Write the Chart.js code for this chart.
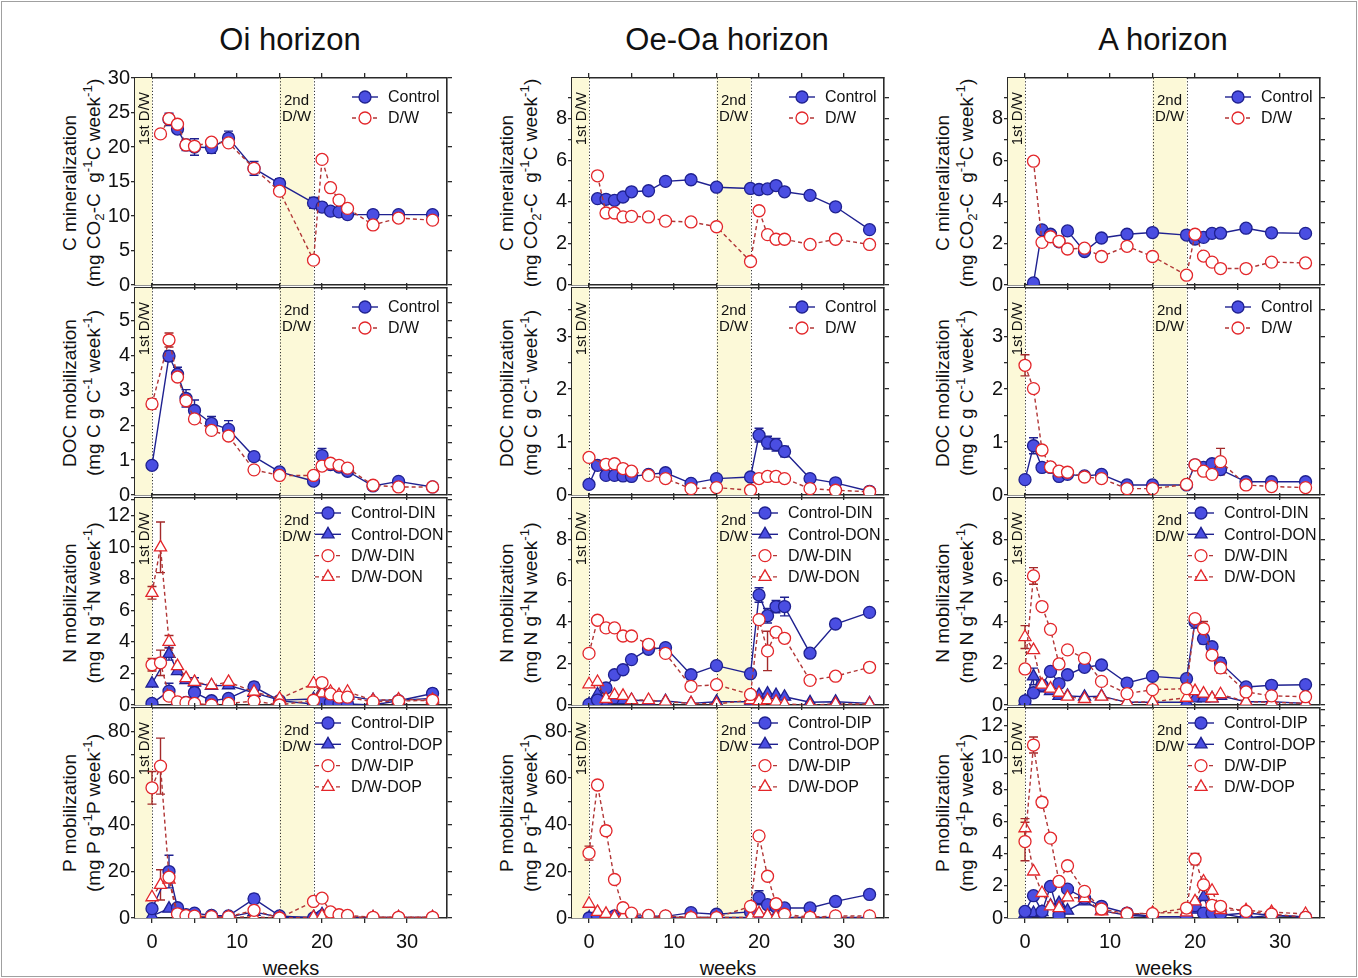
<!DOCTYPE html>
<html>
<head>
<meta charset="utf-8">
<script src="https://cdn.jsdelivr.net/npm/chart.js@4.4.1/dist/chart.umd.min.js"></script>
<style>
html, body { margin: 0; padding: 0; background: #fff; }
#fig { position: relative; width: 1358px; height: 978px; overflow: hidden;
       font-family: "Liberation Sans", Arial, sans-serif; color: #111; }
#frame { position: absolute; left: 1px; top: 1px; width: 1354px; height: 974px; border: 1px solid #a0a0a0; }
.panel { position: absolute; }
.panel canvas { display: block; }
.coltitle { position: absolute; top: 40px; font-size: 31px; white-space: nowrap; transform: translate(-50%, -50%); }
.ytitle { position: absolute; font-size: 19px; white-space: nowrap; line-height: 1;
          transform: translate(-50%, -50%) rotate(-90deg); }
.xtitle { position: absolute; top: 968px; font-size: 20px; transform: translate(-50%, -50%); }
sub, sup { font-size: 70%; line-height: 0; }
</style>
</head>
<body>
<div id="fig"><div id="frame"></div></div>
<script>
// sampling weeks shared by all panels (null = no point that week)
const weeks = [0, 1, 2, 3, 4, 5, 7, 9, 12, 15, 19, 20, 21, 22, 23, 26, 29, 33];
const horizons = ["Oi horizon", "Oe-Oa horizon", "A horizon"];
const xTickLabels = [0, 10, 20, 30];
const dwBands = [[-2, 0], [15, 19]];

// C mineralization
const oiC_ctrl = [null, null, 24.0, 22.6, 20.3, 20.0, 19.9, 21.3, 16.9, 14.7, 11.9, 11.3, 10.7, 10.6, 10.2, 10.2, 10.2, 10.2];
const oiC_dw   = [null, 21.9, 24.1, 23.3, 20.3, 20.1, 20.7, 20.6, 16.9, 13.6, 3.6, 18.2, 14.1, 12.3, 11.1, 8.7, 9.7, 9.4];
const oeC_ctrl = [null, 4.15, 4.12, 4.07, 4.23, 4.48, 4.53, 4.98, 5.06, 4.70, 4.64, 4.59, 4.62, 4.78, 4.48, 4.31, 3.76, 2.66];
const oeC_dw   = [null, 5.25, 3.46, 3.46, 3.27, 3.30, 3.27, 3.07, 3.03, 2.80, 1.13, 3.57, 2.42, 2.20, 2.20, 1.95, 2.20, 1.95];
const aC_ctrl  = [null, 0.10, 2.65, 2.44, 2.08, 2.60, 1.61, 2.26, 2.44, 2.52, 2.40, 2.21, 2.29, 2.48, 2.49, 2.73, 2.51, 2.48];
const aC_dw    = [null, 5.95, 2.05, 2.32, 2.10, 1.73, 1.77, 1.37, 1.86, 1.37, 0.47, 2.44, 1.39, 1.10, 0.79, 0.79, 1.10, 1.06];

// DOC mobilization
const oiD_ctrl = [0.85, null, 3.98, 3.46, 2.77, 2.42, 2.05, 1.88, 1.10, 0.66, 0.40, 1.13, 0.87, 0.80, 0.68, 0.26, 0.39, 0.23];
const oiD_dw   = [2.61, null, 4.44, 3.38, 2.70, 2.18, 1.85, 1.69, 0.72, 0.56, 0.56, 0.83, 0.91, 0.85, 0.77, 0.28, 0.23, 0.23];
const oeD_ctrl = [0.20, 0.56, 0.37, 0.37, 0.36, 0.35, 0.39, 0.42, 0.22, 0.31, 0.34, 1.13, 0.99, 0.95, 0.82, 0.31, 0.23, 0.07];
const oeD_dw   = [0.71, null, 0.58, 0.59, 0.50, 0.45, 0.37, 0.31, 0.12, 0.14, 0.09, 0.31, 0.35, 0.35, 0.31, 0.12, 0.09, 0.06];
const aD_ctrl  = [0.29, 0.93, 0.52, 0.52, 0.35, 0.39, 0.36, 0.39, 0.19, 0.19, 0.19, 0.57, 0.52, 0.59, 0.48, 0.25, 0.25, 0.25];
const aD_dw    = [2.45, 2.01, 0.85, 0.53, 0.45, 0.43, 0.34, 0.31, 0.12, 0.12, 0.20, 0.57, 0.45, 0.39, 0.63, 0.19, 0.16, 0.14];

// N mobilization
const oiN_cdin = [0.10, null, 0.88, 0.10, 0.17, 0.79, 0.27, 0.42, 1.15, 0.27, 0.06, 0.17, 0.17, 0.10, 0.06, 0.00, 0.27, 0.73];
const oiN_cdon = [1.36, null, 3.24, 2.15, 1.57, 1.42, 1.21, 1.25, 0.77, 0.31, 0.38, 0.90, 0.63, 0.58, 0.58, 0.31, 0.31, 0.42];
const oiN_ddin = [2.55, 2.67, 0.56, 0.20, 0.15, 0.10, 0.00, 0.10, 0.25, 0.00, 0.30, 1.42, 0.70, 0.50, 0.50, 0.20, 0.25, 0.30];
const oiN_ddon = [7.10, 9.98, 4.00, 2.46, 1.70, 1.46, 1.25, 1.46, 0.84, 0.40, 1.36, 0.73, 0.84, 0.63, 0.84, 0.30, 0.35, 0.31];
const oeN_cdin = [0.03, 0.24, 0.82, 1.46, 1.70, 2.19, 2.69, 2.77, 1.46, 1.90, 1.51, 5.31, 4.31, 4.75, 4.75, 2.50, 3.91, 4.47];
const oeN_cdon = [0.03, 0.52, 0.16, 0.24, 0.24, 0.24, 0.19, 0.19, 0.08, 0.16, 0.16, 0.48, 0.55, 0.48, 0.40, 0.13, 0.16, 0.08];
const oeN_ddin = [2.49, 4.09, 3.72, 3.72, 3.33, 3.33, 2.93, 2.49, 0.90, 0.98, 0.51, 4.12, 2.61, 3.52, 3.22, 1.19, 1.39, 1.82];
const oeN_ddon = [1.00, 1.11, 0.29, 0.48, 0.44, 0.24, 0.24, 0.16, 0.08, 0.05, 0.24, 0.19, 0.24, 0.16, 0.05, 0.00, 0.05, 0.05];
const aN_cdin  = [0.20, 0.59, 0.95, 1.62, 1.03, 1.46, 1.82, 1.93, 1.06, 1.38, 1.27, 4.01, 3.20, 2.81, 2.03, 0.87, 0.95, 0.98];
const aN_cdon  = [0.19, 1.38, 0.80, 0.67, 0.44, 0.44, 0.40, 0.43, 0.13, 0.13, 0.13, 0.32, 0.32, 0.32, 0.44, 0.16, 0.16, 0.08];
const aN_ddin  = [1.74, 6.23, 4.75, 3.65, 1.98, 2.66, 2.25, 1.14, 0.55, 0.74, 0.79, 4.17, 3.68, 2.41, 1.79, 0.63, 0.44, 0.40];
const aN_ddon  = [3.28, 2.65, 0.98, 0.79, 0.59, 0.40, 0.29, 0.40, 0.13, 0.16, 0.35, 0.67, 0.55, 0.32, 0.52, 0.16, 0.13, 0.08];

// P mobilization
const oiP_cdip = [4.0, null, 19.9, 4.4, 1.4, 2.1, 1.1, 0.9, 8.2, 0.9, 0.0, 0.9, 0.4, 0.0, 0.0, 0.0, 0.0, 0.0];
const oiP_cdop = [0.9, null, 4.0, 0.5, 0.4, 0.3, 0.5, 0.4, 2.6, 0.3, 0.3, 1.6, 1.2, 0.3, 0.3, 0.2, 0.2, 0.2];
const oiP_ddip = [55.8, 65.1, 17.5, 1.8, 1.0, 0.8, 0.6, 0.5, 3.3, 0.0, 7.1, 8.5, 2.6, 1.4, 1.1, 0.3, 0.3, 0.3];
const oiP_ddop = [8.9, 14.2, 16.5, 0.4, 0.3, 0.3, 0.3, 0.3, 0.5, 0.0, 0.3, 0.8, 0.5, 0.3, 0.3, 0.3, 0.3, 0.3];
const oeP_cdip = [0.0, 0.9, 0.4, 0.9, 0.4, 0.9, 0.9, 0.7, 2.3, 1.6, 2.6, 8.7, 5.7, 4.7, 4.3, 4.3, 7.1, 10.1];
const oeP_cdop = [0.1, 0.2, 0.2, 0.2, 0.2, 0.2, 0.2, 0.2, 0.2, 0.2, 0.2, 0.9, 1.1, 1.1, 0.2, 0.2, 0.2, 0.2];
const oeP_ddip = [27.8, 57.0, 37.4, 16.5, 4.4, 2.1, 1.1, 0.9, 0.2, 0.2, 5.0, 35.2, 17.9, 6.1, 1.6, 0.3, 0.9, 0.9];
const oeP_ddop = [6.1, 2.6, 1.8, 0.5, 0.3, 0.3, 0.3, 0.3, 0.2, 0.2, 0.3, 2.0, 1.0, 0.5, 0.3, 0.3, 0.3, 0.3];
const aP_cdip  = [0.41, 1.39, 0.41, 1.97, 0.17, 1.80, 1.24, 0.73, 0.31, 0.08, 0.08, 0.77, 0.31, 0.31, 0.27, 0.00, 0.17, 0.06];
const aP_cdop  = [0.25, 0.31, 0.37, 0.77, 0.93, 0.46, 1.04, 0.46, 0.17, 0.08, 0.08, 0.52, 1.31, 0.04, 0.17, 0.31, 0.17, 0.06];
const aP_ddip  = [4.77, 10.79, 7.22, 4.98, 2.28, 3.26, 1.66, 0.56, 0.27, 0.27, 0.62, 3.67, 2.07, 0.79, 0.73, 0.41, 0.25, 0.04];
const aP_ddop  = [5.60, 2.90, 1.56, 0.73, 0.62, 1.29, 1.24, 0.41, 0.25, 0.31, 0.35, 1.04, 2.28, 1.70, 0.50, 0.48, 0.37, 0.25];

// error bars (SE), keyed by week
const errOiC_ctrl = {2: 0.9, 3: 0.6, 4: 0.8, 5: 1.2, 7: 0.8, 9: 1.0, 12: 1.0, 15: 0.7, 19: 0.8, 20: 0.6, 21: 0.6, 22: 0.6, 23: 0.6, 26: 0.6, 29: 0.5, 33: 0.5};
const errOiC_dw = {20: 0.5, 21: 0.5, 22: 0.3};
const errOiD_ctrl = {2: 0.15, 3: 0.2, 4: 0.25, 5: 0.3, 7: 0.2, 9: 0.25, 12: 0.12, 20: 0.2};
const errOiD_dw = {0: 0.15, 2: 0.2};
const errOeD_ctrl = {20: 0.13, 21: 0.12, 22: 0.12, 23: 0.1};
const errAD_ctrl = {1: 0.15};
const errAD_dw = {0: 0.2, 23: 0.25};
const errOiN_cdin = {2: 0.5, 12: 0.3, 33: 0.3};
const errOiN_cdon = {2: 0.4, 5: 0.3};
const errOiN_ddin = {0: 0.4, 1: 0.8};
const errOiN_ddon = {0: 0.4, 1: 1.6, 2: 0.4};
const errOeN_cdin = {20: 0.35, 21: 0.35, 22: 0.3, 23: 0.45};
const errOeN_ddin = {21: 0.95};
const errAN_cdin = {20: 0.3, 21: 0.25, 23: 0.25};
const errAN_cdon = {1: 0.4};
const errAN_ddin = {1: 0.4, 21: 0.35, 23: 0.25};
const errAN_ddon = {0: 0.55};
const errOiP_cdip = {2: 7, 12: 2};
const errOiP_ddip = {0: 7, 1: 12};
const errOiP_ddop = {1: 6.5};
const errOeP_cdip = {20: 3};
const errOeP_ddip = {0: 3, 2: 2};
const errAP_ddip = {0: 1.2, 1: 0.5, 2: 0.3, 20: 0.35};
const errAP_ddop = {0: 0.6};

// layout
const FONT = '"Liberation Sans", Arial, sans-serif';
const COL_LEFT = [135, 572, 1008];
const ROW_TOP = [78, 288, 498, 708];
const PLOT_W = 312, PLOT_H = 210;
const X_MIN = -2, X_MAX = 34.7;
const AX_L = 60, AX_R = 10, AX_T = 14, AX_B = 10, AX_B_LAST = 50;
const YT1 = [69, 506, 942], YT2 = [93, 530, 966];

const BLUE = "#4a4ee2", NAVY = "#1f2190", RED = "#e3262a", DARKRED = "#b13636", ERRRED = "#a32a2a";
const BAND = "#fcf9d8", AXIS = "#2a2a2a";

const yTitles = [
    ["C mineralization", "(mg CO<sub>2</sub>-C&nbsp; g<sup>-1</sup>C week<sup>-1</sup>)"],
    ["DOC mobilization", "(mg C g C<sup>-1</sup> week<sup>-1</sup>)"],
    ["N mobilization", "(mg N g<sup>-1</sup>N week<sup>-1</sup>)"],
    ["P mobilization", "(mg P g<sup>-1</sup>P week<sup>-1</sup>)"]
];

function ser(label, values, err, kind, shape) {
    return { label, values, err: err || {}, kind, shape };
}

const panels = [
    { col: 0, row: 0, yMax: 30, minor: 5, major: 5, series: [ser("Control", oiC_ctrl, errOiC_ctrl, "ctrl", "circle"), ser("D/W", oiC_dw, errOiC_dw, "dw", "circle")] },
    { col: 1, row: 0, yMax: 9.95, minor: 1, major: 2, series: [ser("Control", oeC_ctrl, null, "ctrl", "circle"), ser("D/W", oeC_dw, null, "dw", "circle")] },
    { col: 2, row: 0, yMax: 9.95, minor: 1, major: 2, series: [ser("Control", aC_ctrl, null, "ctrl", "circle"), ser("D/W", aC_dw, null, "dw", "circle")] },
    { col: 0, row: 1, yMax: 5.93, minor: 0.5, major: 1, series: [ser("Control", oiD_ctrl, errOiD_ctrl, "ctrl", "circle"), ser("D/W", oiD_dw, errOiD_dw, "dw", "circle")] },
    { col: 1, row: 1, yMax: 3.91, minor: 0.5, major: 1, series: [ser("Control", oeD_ctrl, errOeD_ctrl, "ctrl", "circle"), ser("D/W", oeD_dw, null, "dw", "circle")] },
    { col: 2, row: 1, yMax: 3.91, minor: 0.5, major: 1, series: [ser("Control", aD_ctrl, errAD_ctrl, "ctrl", "circle"), ser("D/W", aD_dw, errAD_dw, "dw", "circle")] },
    { col: 0, row: 2, yMax: 13.1, minor: 1, major: 2, series: [
        ser("Control-DIN", oiN_cdin, errOiN_cdin, "ctrl", "circle"), ser("Control-DON", oiN_cdon, errOiN_cdon, "ctrl", "triangle"),
        ser("D/W-DIN", oiN_ddin, errOiN_ddin, "dw", "circle"), ser("D/W-DON", oiN_ddon, errOiN_ddon, "dw", "triangle")] },
    { col: 1, row: 2, yMax: 9.99, minor: 1, major: 2, series: [
        ser("Control-DIN", oeN_cdin, errOeN_cdin, "ctrl", "circle"), ser("Control-DON", oeN_cdon, null, "ctrl", "triangle"),
        ser("D/W-DIN", oeN_ddin, errOeN_ddin, "dw", "circle"), ser("D/W-DON", oeN_ddon, null, "dw", "triangle")] },
    { col: 2, row: 2, yMax: 9.99, minor: 1, major: 2, series: [
        ser("Control-DIN", aN_cdin, errAN_cdin, "ctrl", "circle"), ser("Control-DON", aN_cdon, errAN_cdon, "ctrl", "triangle"),
        ser("D/W-DIN", aN_ddin, errAN_ddin, "dw", "circle"), ser("D/W-DON", aN_ddon, errAN_ddon, "dw", "triangle")] },
    { col: 0, row: 3, yMax: 90, minor: 10, major: 20, series: [
        ser("Control-DIP", oiP_cdip, errOiP_cdip, "ctrl", "circle"), ser("Control-DOP", oiP_cdop, null, "ctrl", "triangle"),
        ser("D/W-DIP", oiP_ddip, errOiP_ddip, "dw", "circle"), ser("D/W-DOP", oiP_ddop, errOiP_ddop, "dw", "triangle")] },
    { col: 1, row: 3, yMax: 90, minor: 10, major: 20, series: [
        ser("Control-DIP", oeP_cdip, errOeP_cdip, "ctrl", "circle"), ser("Control-DOP", oeP_cdop, null, "ctrl", "triangle"),
        ser("D/W-DIP", oeP_ddip, errOeP_ddip, "dw", "circle"), ser("D/W-DOP", oeP_ddop, null, "dw", "triangle")] },
    { col: 2, row: 3, yMax: 13.1, minor: 1, major: 2, series: [
        ser("Control-DIP", aP_cdip, null, "ctrl", "circle"), ser("Control-DOP", aP_cdop, null, "ctrl", "triangle"),
        ser("D/W-DIP", aP_ddip, errAP_ddip, "dw", "circle"), ser("D/W-DOP", aP_ddop, errAP_ddop, "dw", "triangle")] }
];

function isMult(v, m) {
    return Math.abs(v / m - Math.round(v / m)) < 1e-6;
}

function drawMarker(ctx, shape, x, y, r, kind) {
    ctx.beginPath();
    if (shape === "triangle") {
        for (let k = 0; k < 3; k++) {
            const a = k * 2 * Math.PI / 3;
            const px = x + Math.sin(a) * r, py = y - Math.cos(a) * r;
            if (k === 0) ctx.moveTo(px, py); else ctx.lineTo(px, py);
        }
        ctx.closePath();
    } else {
        ctx.arc(x, y, r, 0, Math.PI * 2);
    }
    ctx.fillStyle = kind === "ctrl" ? BLUE : "#fff";
    ctx.strokeStyle = kind === "ctrl" ? NAVY : RED;
    ctx.lineWidth = 1.3;
    ctx.fill();
    ctx.stroke();
}

// bands, D/W labels, error bars under the data; legend on top
const decorPlugin = {
    id: "decor",
    beforeDatasetsDraw(chart) {
        const { ctx, chartArea: a, scales: { x, y } } = chart;
        ctx.save();
        ctx.fillStyle = BAND;
        dwBands.forEach(([b0, b1]) => {
            const p0 = x.getPixelForValue(b0), p1 = x.getPixelForValue(b1);
            ctx.fillRect(p0, a.top, p1 - p0, a.bottom - a.top);
        });
        ctx.strokeStyle = "#333";
        ctx.lineWidth = 1;
        ctx.setLineDash([1.2, 2]);
        [0, 15, 19].forEach(v => {
            const px = Math.round(x.getPixelForValue(v)) + 0.5;
            ctx.beginPath();
            ctx.moveTo(px, a.top);
            ctx.lineTo(px, a.bottom);
            ctx.stroke();
        });
        ctx.setLineDash([]);

        ctx.fillStyle = "#111";
        ctx.font = "15px " + FONT;
        ctx.textAlign = "center";
        ctx.textBaseline = "middle";
        const c2 = x.getPixelForValue(17);
        ctx.fillText("2nd", c2, a.top + 23);
        ctx.fillText("D/W", c2, a.top + 39);
        ctx.save();
        ctx.translate(x.getPixelForValue(-1) + 1, a.top + 14);
        ctx.rotate(-Math.PI / 2);
        ctx.textAlign = "right";
        ctx.fillText("1st D/W", 0, 0);
        ctx.restore();

        // error bars
        chart.data.datasets.forEach(ds => {
            ctx.strokeStyle = ds.kind === "ctrl" ? NAVY : ERRRED;
            ctx.lineWidth = 1.4;
            ds.data.forEach(d => {
                const e = ds.errors[d.x];
                if (!e) return;
                const px = x.getPixelForValue(d.x);
                const top = y.getPixelForValue(d.y + e);
                const bot = y.getPixelForValue(Math.max(0, d.y - e));
                ctx.beginPath();
                ctx.moveTo(px, top); ctx.lineTo(px, bot);
                ctx.moveTo(px - 4.5, top); ctx.lineTo(px + 4.5, top);
                ctx.moveTo(px - 4.5, bot); ctx.lineTo(px + 4.5, bot);
                ctx.stroke();
            });
        });
        ctx.restore();
    },
    afterDraw(chart) {
        const { ctx, chartArea: a } = chart;
        const sets = chart.data.datasets;
        const four = sets.length > 2;
        const mx = a.right - (four ? 119 : 82);
        const tx = a.right - (four ? 96 : 59);
        const y0 = a.top + (four ? 15 : 19);
        const dy = four ? 21.3 : 21;
        ctx.save();
        sets.forEach((ds, i) => {
            const yy = y0 + i * dy;
            ctx.strokeStyle = ds.kind === "ctrl" ? NAVY : DARKRED;
            ctx.lineWidth = 1.4;
            ctx.setLineDash(ds.kind === "ctrl" ? [] : [4, 3]);
            ctx.beginPath();
            ctx.moveTo(mx - 13, yy);
            ctx.lineTo(mx + 13, yy);
            ctx.stroke();
            ctx.setLineDash([]);
            drawMarker(ctx, ds.shape, mx, yy, ds.shape === "triangle" ? 7 : 6, ds.kind);
            ctx.fillStyle = "#111";
            ctx.font = "16px " + FONT;
            ctx.textAlign = "left";
            ctx.textBaseline = "middle";
            ctx.fillText(ds.label, tx, yy + 1);
        });
        ctx.restore();
    }
};

function makePanel(p) {
    const fig = document.getElementById("fig");
    const bottomH = p.row === 3 ? AX_B_LAST : AX_B;
    const w = AX_L + PLOT_W + AX_R, h = AX_T + PLOT_H + bottomH;
    const div = document.createElement("div");
    div.className = "panel";
    div.style.left = (COL_LEFT[p.col] - AX_L) + "px";
    div.style.top = (ROW_TOP[p.row] - AX_T) + "px";
    div.style.width = w + "px";
    div.style.height = h + "px";
    const cv = document.createElement("canvas");
    cv.width = w;
    cv.height = h;
    div.appendChild(cv);
    fig.appendChild(div);

    const grid = { drawOnChartArea: false, drawTicks: true, tickLength: 5, color: AXIS, lineWidth: 1.3 };
    const border = { display: true, color: AXIS, width: 1.6 };
    const tickFont = { size: 20, family: FONT };

    const datasets = p.series.map(s => ({
        label: s.label,
        kind: s.kind,
        shape: s.shape,
        errors: s.err,
        data: weeks.map((wk, i) => ({ x: wk, y: s.values[i] })).filter(d => d.y !== null),
        borderColor: s.kind === "ctrl" ? NAVY : DARKRED,
        borderWidth: 1.4,
        borderDash: s.kind === "ctrl" ? [] : [4, 3],
        pointStyle: s.shape,
        pointRadius: s.shape === "triangle" ? 7 : 6,
        pointBackgroundColor: s.kind === "ctrl" ? BLUE : "#fff",
        pointBorderColor: s.kind === "ctrl" ? NAVY : RED,
        pointBorderWidth: 1.3,
        tension: 0,
        fill: false,
        order: s.kind === "ctrl" ? 2 : 1
    }));

    new Chart(cv, {
        type: "line",
        data: { datasets },
        options: {
            responsive: false,
            animation: false,
            events: [],
            layout: { padding: 0 },
            plugins: { legend: { display: false }, tooltip: { enabled: false } },
            scales: {
                x: {
                    type: "linear", position: "bottom", min: X_MIN, max: X_MAX,
                    ticks: {
                        display: p.row === 3, stepSize: 5, includeBounds: false, autoSkip: false, maxRotation: 0,
                        callback: v => xTickLabels.includes(v) ? String(v) : "",
                        font: tickFont, color: "#111", padding: 7
                    },
                    grid, border,
                    afterFit: s => { s.height = bottomH; }
                },
                xTop: {
                    type: "linear", position: "top", min: X_MIN, max: X_MAX,
                    ticks: { display: false, stepSize: 5, includeBounds: false },
                    grid, border,
                    afterFit: s => { s.height = AX_T; }
                },
                y: {
                    type: "linear", position: "left", min: 0, max: p.yMax,
                    ticks: {
                        stepSize: p.minor, includeBounds: false, autoSkip: false,
                        callback: v => isMult(v, p.major) ? String(v) : "",
                        font: tickFont, color: "#111", padding: 1
                    },
                    grid: Object.assign({}, grid, { tickLength: 4 }), border,
                    afterFit: s => { s.width = AX_L; }
                },
                yRight: {
                    type: "linear", position: "right", min: 0, max: p.yMax,
                    ticks: { display: false, stepSize: p.minor, includeBounds: false },
                    grid, border,
                    afterFit: s => { s.width = AX_R; }
                }
            }
        },
        plugins: [decorPlugin]
    });
}

function addText(cls, html, x, y) {
    const el = document.createElement("div");
    el.className = cls;
    el.innerHTML = html;
    el.style.left = x + "px";
    if (y !== undefined) el.style.top = y + "px";
    document.getElementById("fig").appendChild(el);
}

horizons.forEach((t, c) => {
    addText("coltitle", t, COL_LEFT[c] + PLOT_W / 2 - 1);
    addText("xtitle", "weeks", COL_LEFT[c] + PLOT_W / 2);
    yTitles.forEach((lines, r) => {
        const cy = ROW_TOP[r] + PLOT_H / 2;
        addText("ytitle", lines[0], YT1[c], cy);
        addText("ytitle", lines[1], YT2[c], cy);
    });
});

panels.forEach(makePanel);
</script>
</body>
</html>
